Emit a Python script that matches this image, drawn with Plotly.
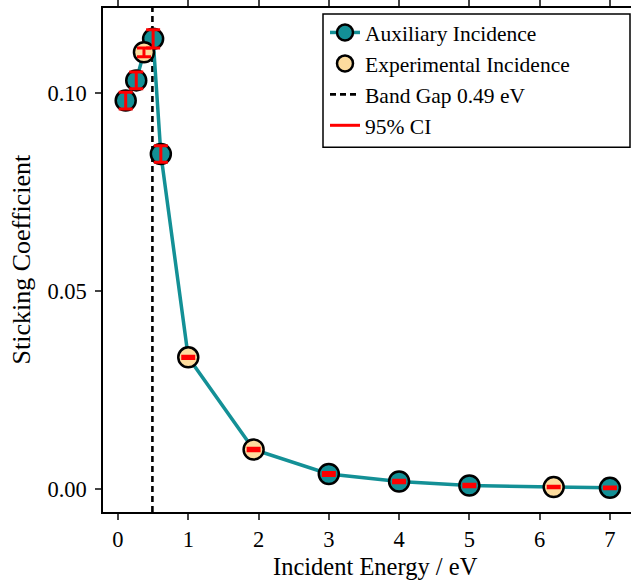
import plotly.graph_objects as go

# Data
energy = [0.11, 0.26, 0.37, 0.50, 0.61, 1.00, 1.93, 3.00, 4.00, 5.00, 6.20, 7.00]
sticking = [0.0982, 0.1033, 0.1104, 0.1138, 0.0847, 0.0333, 0.0100, 0.0038, 0.0019, 0.0009, 0.0005, 0.0003]
ci_err = [0.0021, 0.0021, 0.0011, 0.0023, 0.0021, 0.0003, 0.0003, 0.0004, 0.0003, 0.0003, 0.0002, 0.0002]
kind = ["aux", "aux", "exp", "aux", "aux", "exp", "exp", "aux", "aux", "aux", "exp", "aux"]
band_gap = 0.49
x_ticks = [0, 1, 2, 3, 4, 5, 6, 7]
y_ticks = [0.00, 0.05, 0.10]
y_ticklabels = ["0.00", "0.05", "0.10"]
x_title = "Incident Energy / eV"
y_title = "Sticking Coefficient"

TEAL = "#139096"
YELLOW = "#FDDC9E"
FONT = "Liberation Serif"

W, H = 631, 581
ML, MR, MT, MB = 103, 0, 5, 69
PW, PH = W - ML - MR, H - MT - MB

x_range = [-0.213, 7.30]
y_range = [-0.0058, 0.1216]

aux_x = [e for e, k in zip(energy, kind) if k == "aux"]
aux_y = [s for s, k in zip(sticking, kind) if k == "aux"]
exp_x = [e for e, k in zip(energy, kind) if k == "exp"]
exp_y = [s for s, k in zip(sticking, kind) if k == "exp"]

fig = go.Figure()

# band gap line
fig.add_trace(go.Scatter(x=[band_gap, band_gap], y=y_range, mode="lines",
                         line=dict(color="black", width=2.6, dash="6px,4px"),
                         showlegend=False, hoverinfo="skip"))

# connecting line
fig.add_trace(go.Scatter(x=energy, y=sticking, mode="lines",
                         line=dict(color=TEAL, width=3.5), showlegend=False))

marker_line = dict(color="black", width=2.5)
fig.add_trace(go.Scatter(x=aux_x, y=aux_y, mode="markers",
                         marker=dict(size=20, color=TEAL, line=marker_line),
                         showlegend=False))
fig.add_trace(go.Scatter(x=exp_x, y=exp_y, mode="markers",
                         marker=dict(size=20, color=YELLOW, line=marker_line),
                         showlegend=False))

# 95% CI error bars on top
fig.add_trace(go.Scatter(x=energy, y=sticking, mode="markers",
                         marker=dict(size=1, color="rgba(0,0,0,0)"),
                         error_y=dict(type="data", array=ci_err, color="red",
                                      thickness=3, width=7),
                         showlegend=False))

# legend entries
fig.add_trace(go.Scatter(x=[None], y=[None], mode="lines+markers", name="Auxiliary Incidence",
                         line=dict(color=TEAL, width=3.5),
                         marker=dict(size=18, color=TEAL, line=marker_line)))
fig.add_trace(go.Scatter(x=[None], y=[None], mode="markers", name="Experimental Incidence",
                         marker=dict(size=18, color=YELLOW, line=marker_line)))
fig.add_trace(go.Scatter(x=[None], y=[None], mode="lines", name="Band Gap 0.49 eV",
                         line=dict(color="black", width=2.6, dash="6px,4px")))
fig.add_trace(go.Scatter(x=[None], y=[None], mode="lines", name="95% CI",
                         line=dict(color="red", width=3)))

def px_x(p):
    return (p - ML) / PW

def px_y(p):
    return 1 - (p - MT) / PH

# legend frame
fig.add_shape(type="rect", xref="paper", yref="paper",
              x0=px_x(323), x1=px_x(630), y0=px_y(145), y1=px_y(11),
              line=dict(color="black", width=1.5), fillcolor="white", layer="above")

fig.add_annotation(text=x_title, xref="paper", yref="paper", x=px_x(375), y=px_y(567),
                   xanchor="center", yanchor="middle", showarrow=False,
                   font=dict(size=24.5))
fig.add_annotation(text=y_title, xref="paper", yref="paper", x=px_x(22), y=px_y(258),
                   xanchor="center", yanchor="middle", showarrow=False, textangle=-90,
                   font=dict(size=26))

fig.update_layout(
    width=W, height=H,
    margin=dict(l=ML, r=MR, t=MT, b=MB),
    paper_bgcolor="white", plot_bgcolor="white",
    font=dict(family=FONT, size=22, color="black"),
    legend=dict(x=px_x(325), xanchor="left", y=px_y(9), yanchor="top",
                borderwidth=0, bgcolor="rgba(0,0,0,0)",
                font=dict(size=21.5), itemwidth=30, tracegroupgap=0),
    showlegend=True,
)
fig.update_xaxes(range=x_range, tickvals=x_ticks, ticks="outside", ticklen=6,
                 tickwidth=1.5, showline=True, linecolor="black", linewidth=1.5,
                 mirror="ticks", showgrid=False, zeroline=False,
                 tickfont=dict(size=22.5))
fig.update_yaxes(range=y_range, tickvals=y_ticks, ticktext=y_ticklabels,
                 ticks="outside", ticklen=6, tickwidth=1.5, showline=True,
                 linecolor="black", linewidth=1.5, mirror=False, showgrid=False,
                 zeroline=False, ticklabelstandoff=4,
                 tickfont=dict(size=22.5))

fig.write_html("out.html")
